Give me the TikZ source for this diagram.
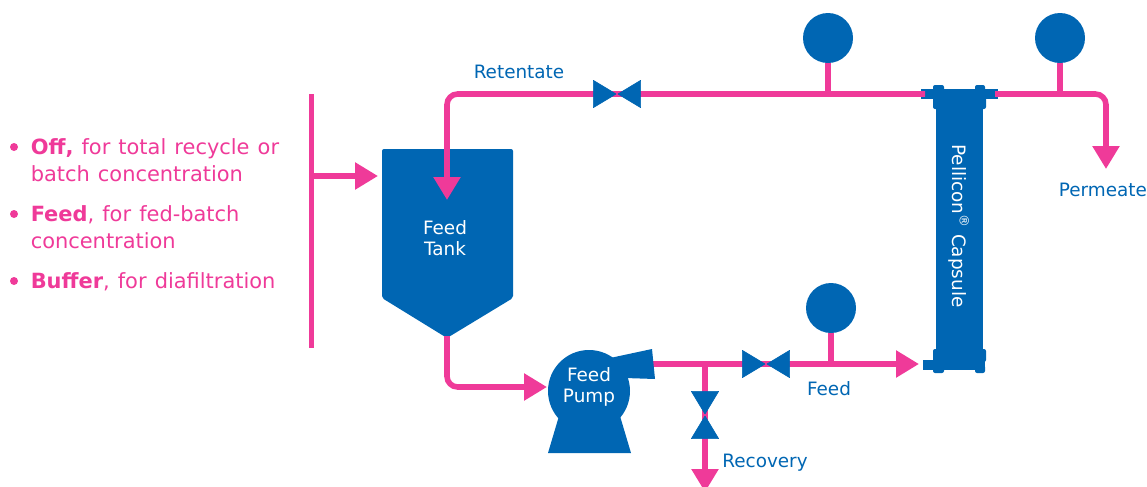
\documentclass[tikz,border=0pt]{standalone}
\usepackage{fontspec}
\setmainfont{DejaVu Sans}
\newfontfamily\listfont[WordSpace=1.22]{DejaVu Sans}
\usetikzlibrary{arrows.meta}
\definecolor{pipepink}{HTML}{EF3A99}
\definecolor{unitblue}{HTML}{0066B3}
\tikzset{
  pipe/.style={draw=pipepink, line width=4.2pt, rounded corners=8pt},
  flow/.style={pipe, -{Triangle[length=17.25pt, width=19.5pt]}},
  gauge/.style={circle, fill=unitblue, inner sep=0pt, minimum size=37.5pt},
  unit/.style={fill=unitblue, rounded corners=1.5pt},
  inside/.style={text=white, align=center, font=\fontsize{13.8}{16}\selectfont},
  tag/.style={text=unitblue, inner sep=0pt, font=\fontsize{13.8}{16}\selectfont},
  option/.style={text=pipepink, inner sep=0pt, align=left, anchor=north west, font=\listfont\fontsize{15.7}{20.6}\selectfont},
  dot/.style={circle, fill=pipepink, inner sep=0pt, minimum size=6pt},
  bowtie/.pic={
    \filldraw[unitblue, line width=0.5pt, line join=round] (-23.6,-13.6) -- (-1,0) -- (-23.6,13.6) -- cycle;
    \filldraw[unitblue, line width=0.5pt, line join=round] (23.6,-13.6) -- (1,0) -- (23.6,13.6) -- cycle;
  }
}
\begin{document}
\begin{tikzpicture}[x=0.75pt, y=-0.75pt]
  \clip (0,0) rectangle (1147,486);

  % Define points on the lines
  \coordinate (barTop) at (311,94);
  \coordinate (barBottom) at (311,348);
  \coordinate (barOut) at (311,176);
  \coordinate (tankIn) at (378,176);
  \coordinate (tankDrop) at (447,200);
  \coordinate (tankBottom) at (447,336);
  \coordinate (pumpIn) at (547,387);
  \coordinate (pumpOut) at (650,364);
  \coordinate (feedEnd) at (919,364);
  \coordinate (recTee) at (705,364);
  \coordinate (recEnd) at (705,492);
  \coordinate (valveRet) at (617,94);
  \coordinate (valveFeed) at (766,364);
  \coordinate (valveRec) at (705,415);
  \coordinate (capTopIn) at (925,94);
  \coordinate (capTopOut) at (995,94);
  \coordinate (permEnd) at (1106,169);

  % Define gauges
  \node[gauge] (gaugeRet) at (828,38) {};
  \node[gauge] (gaugePerm) at (1060,38) {};
  \node[gauge] (gaugeFeed) at (831,308) {};

  % Draw the blue units
  \fill[unit] (382,149) -- (513,149) -- (513,298) -- (447,338) -- (382,298) -- cycle;
  \node[inside] (tank) at (445,238) {Feed\\Tank};

  \fill[unitblue] (936,89) rectangle (983,370);
  \fill[unitblue] (921,89) rectangle (998,99);
  \fill[unit] (933,85) rectangle (944,95);
  \fill[unit] (975,85) rectangle (985,95);
  \fill[unit] (933,95) rectangle (986,109);
  \fill[unitblue] (923,360) rectangle (985,370);
  \fill[unit] (933,349) rectangle (986,362);
  \fill[unit] (933,365) rectangle (944,373);
  \fill[unit] (975,365) rectangle (985,373);
  \node[inside, rotate=-90] (capsule) at (959,226) {Pellicon\textsuperscript{®} Capsule};

  % Draw the lines with arrows
  \draw[pipe, line width=3.75pt] (barTop) -- (barBottom);
  \draw[flow] (barOut) -- (tankIn);
  \draw[flow] (capTopIn) -- (valveRet) -- (valveRet -| tankDrop) -- (tankDrop);
  \draw[flow] (tankBottom) -- (tankBottom |- pumpIn) -- (pumpIn);
  \draw[flow] (pumpOut) -- (feedEnd);
  \draw[flow] (recTee) -- (recEnd);
  \draw[flow] (capTopOut) -- (capTopOut -| permEnd) -- (permEnd);
  \draw[pipe] (gaugeRet) -- (gaugeRet |- valveRet);
  \draw[pipe] (gaugePerm) -- (gaugePerm |- capTopOut);
  \draw[pipe] (gaugeFeed) -- (gaugeFeed |- feedEnd);

  % Draw the pump
  \node[circle, fill=unitblue, inner sep=0pt, minimum size=61.5pt] (pump) at (589,391) {};
  \fill[unitblue] (559,416) -- (548,453) -- (631,453) -- (620,416) -- cycle;
  \fill[unitblue] (610,358) -- (652,349) -- (655,379) -- (625,378) -- cycle;
  \node[inside] (pumpText) at (589,387) {Feed\\Pump};

  % Draw the valves
  \pic at (valveRet) {bowtie};
  \pic at (valveFeed) {bowtie};
  \pic[rotate=90] at (valveRec) {bowtie};

  % Labels
  \node[tag] (retentate) at (519,72) {Retentate};
  \node[tag] (permeate) at (1103,190) {Permeate};
  \node[tag] (feed) at (829,389) {Feed};
  \node[tag] (recovery) at (765,463) {Recovery};

  % Options list
  \node[dot] (dotOff) at (14,147) {};
  \node[dot] (dotFeed) at (14,214) {};
  \node[dot] (dotBuffer) at (14,281) {};
  \node[option] (optOff) at (30.5,138) {\textbf{Off,} for total recycle or\\batch concentration};
  \node[option] (optFeed) at (30.5,205) {\textbf{Feed}, for fed-batch\\concentration};
  \node[option] (optBuffer) at (30.5,272) {\textbf{Buffer}, for diafiltration};
\end{tikzpicture}
\end{document}
